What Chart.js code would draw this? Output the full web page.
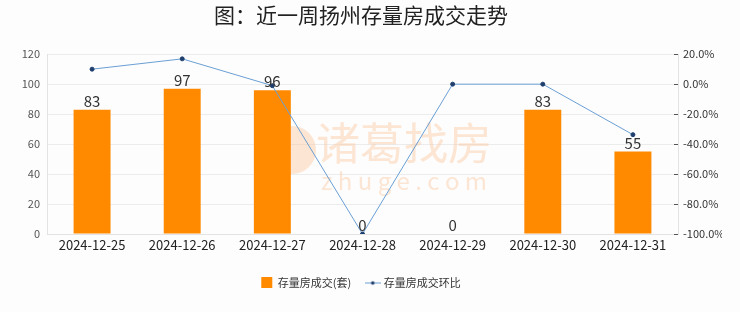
<!DOCTYPE html>
<html>
<head>
<meta charset="utf-8">
<script src="https://cdn.jsdelivr.net/npm/chart.js@4"></script>
<style>
html, body { margin: 0; padding: 0; background: #fdfdfd; }
#wrap { width: 740px; height: 312px; }
</style>
</head>
<body>
<div id="wrap"><canvas id="grafico" width="740" height="312"></canvas></div>
<script>
// dados do grafico
var datas = ['2024-12-25', '2024-12-26', '2024-12-27', '2024-12-28', '2024-12-29', '2024-12-30', '2024-12-31'];
var volume = [83, 97, 96, 0, 0, 83, 55];
var huanbi = [10.0, 16.9, -1.0, -100.0, 0.0, 0.0, -33.7];

var FONTE = '"Noto Sans CJK SC", "Noto Sans", sans-serif';

// simbolo da legenda da linha (linha com ponto)
var simbolo = document.createElement('canvas');
simbolo.width = 16;
simbolo.height = 8;
(function () {
    var c = simbolo.getContext('2d');
    c.strokeStyle = '#6a9fd4';
    c.lineWidth = 1;
    c.beginPath();
    c.moveTo(0, 4.5);
    c.lineTo(16, 4.5);
    c.stroke();
    c.fillStyle = '#1f3f6e';
    c.beginPath();
    c.arc(8, 4.5, 1.8, 0, Math.PI * 2);
    c.fill();
})();

// rotulos em cima das barras
const rotulos = {
    id: 'rotulos',
    afterDatasetsDraw: function (chart) {
        var ctx = chart.ctx;
        var meta = chart.getDatasetMeta(1);
        ctx.save();
        ctx.fillStyle = '#333';
        ctx.font = '15px ' + FONTE;
        ctx.textAlign = 'center';
        ctx.textBaseline = 'bottom';
        meta.data.forEach(function (bar, i) {
            ctx.fillText(volume[i], bar.x, bar.y - 1);
        });
        ctx.restore();
    }
};

// marca d'agua
const marca = {
    id: 'marca',
    beforeDatasetsDraw: function (chart) {
        var ctx = chart.ctx;
        var cx = 404;
        ctx.save();
        ctx.fillStyle = 'rgba(250, 200, 160, 0.45)';
        ctx.textAlign = 'center';
        ctx.textBaseline = 'middle';
        ctx.font = '44px ' + FONTE;
        ctx.fillText('诸葛找房', cx, 143);
        ctx.font = '24px ' + FONTE;
        ctx.fillText('z h u g e . c o m', cx, 181);
        ctx.beginPath();
        ctx.arc(cx - 112, 150, 24, 0, Math.PI * 2);
        ctx.fill();
        ctx.restore();
    }
};

// tracinhos do eixo direito (para dentro)
const tracos = {
    id: 'tracos',
    afterDraw: function (chart) {
        var ctx = chart.ctx;
        var s = chart.scales.y1;
        ctx.save();
        ctx.strokeStyle = '#555';
        ctx.lineWidth = 1;
        s.ticks.forEach(function (t) {
            var y = Math.round(s.getPixelForValue(t.value)) + 0.5;
            ctx.beginPath();
            ctx.moveTo(s.left - 4, y);
            ctx.lineTo(s.left, y);
            ctx.stroke();
        });
        ctx.restore();
    }
};

const config = {
    data: {
        labels: datas,
        datasets: [{
            type: 'line',
            label: '存量房成交环比',
            data: huanbi,
            yAxisID: 'y1',
            borderColor: '#6a9fd4',
            borderWidth: 1,
            pointRadius: 2,
            pointBackgroundColor: '#1f3f6e',
            pointBorderColor: '#1f3f6e',
            tension: 0,
            order: 0
        }, {
            type: 'bar',
            label: '存量房成交(套)',
            data: volume,
            yAxisID: 'y',
            backgroundColor: '#ff8a00',
            barPercentage: 0.41,
            categoryPercentage: 1,
            order: 1
        }]
    },
    options: {
        responsive: false,
        animation: false,
        layout: { padding: { left: 0, right: 18, top: 0, bottom: 14 } },
        plugins: {
            title: {
                display: true,
                text: '图：近一周扬州存量房成交走势',
                color: '#222',
                font: { size: 21, family: FONTE, weight: 'normal' },
                padding: { top: 2, bottom: 27 }
            },
            legend: {
                position: 'bottom',
                labels: {
                    color: '#333',
                    font: { size: 11, family: FONTE },
                    usePointStyle: true,
                    padding: 16,
                    generateLabels: function (chart) {
                        return [{
                            text: '存量房成交(套)',
                            fillStyle: '#ff8a00',
                            strokeStyle: '#ff8a00',
                            lineWidth: 0,
                            pointStyle: 'rect',
                            datasetIndex: 1,
                            fontColor: '#333'
                        }, {
                            text: '存量房成交环比',
                            pointStyle: simbolo,
                            datasetIndex: 0,
                            fontColor: '#333'
                        }];
                    }
                }
            },
            tooltip: { enabled: false }
        },
        scales: {
            x: {
                grid: { display: false, drawTicks: false },
                border: { color: '#e3e3e3' },
                ticks: {
                    color: '#222',
                    font: { size: 13, family: FONTE },
                    padding: 3,
                    maxRotation: 0
                },
                afterFit: function (scale) { scale.height = 27; }
            },
            y: {
                position: 'left',
                min: 0,
                max: 120,
                ticks: {
                    stepSize: 20,
                    color: '#555',
                    font: { size: 11, family: FONTE },
                    padding: 7
                },
                grid: { color: '#ececec', drawTicks: false },
                border: { color: '#e3e3e3' },
                afterFit: function (scale) { scale.width = 47; }
            },
            y1: {
                position: 'right',
                min: -100,
                max: 20,
                ticks: {
                    stepSize: 10,
                    color: '#333',
                    font: { size: 11, family: FONTE },
                    padding: 5,
                    callback: function (v) {
                        return v % 20 === 0 ? v.toFixed(1) + '%' : '';
                    }
                },
                grid: { drawOnChartArea: false, drawTicks: false },
                border: { color: '#e3e3e3' },
                afterFit: function (scale) { scale.width = 44; }
            }
        }
    },
    plugins: [marca, rotulos, tracos]
};

const grafico = new Chart(document.getElementById('grafico'), config);
</script>
</body>
</html>
